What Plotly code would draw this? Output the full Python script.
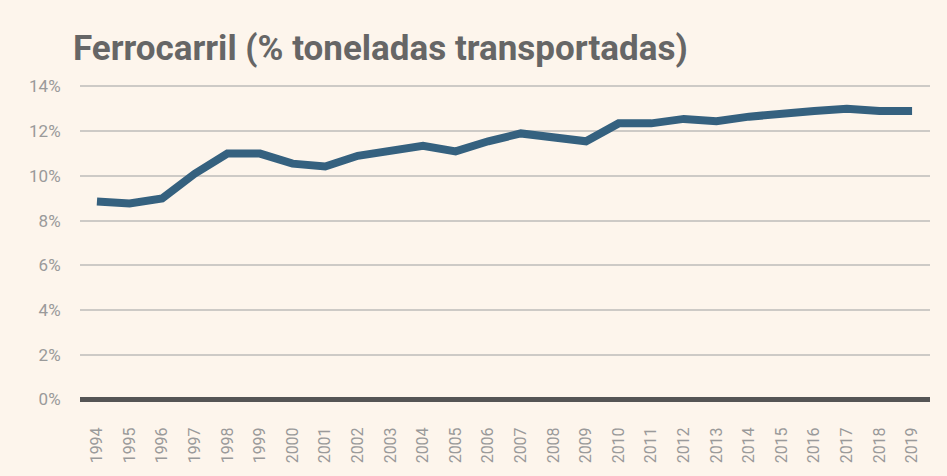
import plotly.graph_objects as go

years = list(range(1994, 2020))
share = [8.86, 8.77, 8.99, 10.1, 11.0, 11.0, 10.55, 10.42, 10.9, 11.1, 11.35, 11.1,
         11.55, 11.9, 11.75, 11.55, 12.35, 12.35, 12.55, 12.45, 12.65, 12.8, 12.9, 13.0,
         12.9, 12.9]
y_ticks = [0, 2, 4, 6, 8, 10, 12, 14]
y_labels = [f"{v}%" for v in y_ticks]
title_text = "Ferrocarril (% toneladas transportadas)"

fig = go.Figure()
fig.add_trace(go.Scatter(x=years, y=share, mode="lines",
                         line=dict(color="#35617f", width=8), hoverinfo="skip"))

fig.update_layout(
    width=947, height=476,
    paper_bgcolor="#fdf5ec", plot_bgcolor="#fdf5ec",
    margin=dict(l=80, r=17, t=82, b=72, autoexpand=False),
    showlegend=False,
    title=dict(text="<b>" + title_text + "</b>", x=0.077, xanchor="left",
               y=0.9, yanchor="middle",
               font=dict(family="Roboto", size=35, color="#666666")),
    font=dict(family="Roboto", color="#999999"),
)
fig.update_xaxes(range=[1993.48, 2019.55], tickvals=years, ticktext=[str(y) for y in years],
                 tickangle=-90, showgrid=False, zeroline=False, showline=False,
                 ticks="outside", ticklen=16, tickcolor="rgba(0,0,0,0)", automargin=False,
                 tickfont=dict(size=16, color="#9a9a9a", family="Roboto"))
fig.update_yaxes(range=[-0.2, 14.2], tickvals=y_ticks, ticktext=y_labels,
                 showgrid=True, gridcolor="#cdcac6", gridwidth=2,
                 zeroline=True, zerolinecolor="#555555", zerolinewidth=5,
                 showline=False, ticks="outside", ticklen=15, tickcolor="rgba(0,0,0,0)",
                 automargin=False,
                 tickfont=dict(size=17, color="#9a9a9a", family="Roboto"))

fig.write_html("out.html", config={"displayModeBar": False},
               post_script="document.body.style.margin='0';")
